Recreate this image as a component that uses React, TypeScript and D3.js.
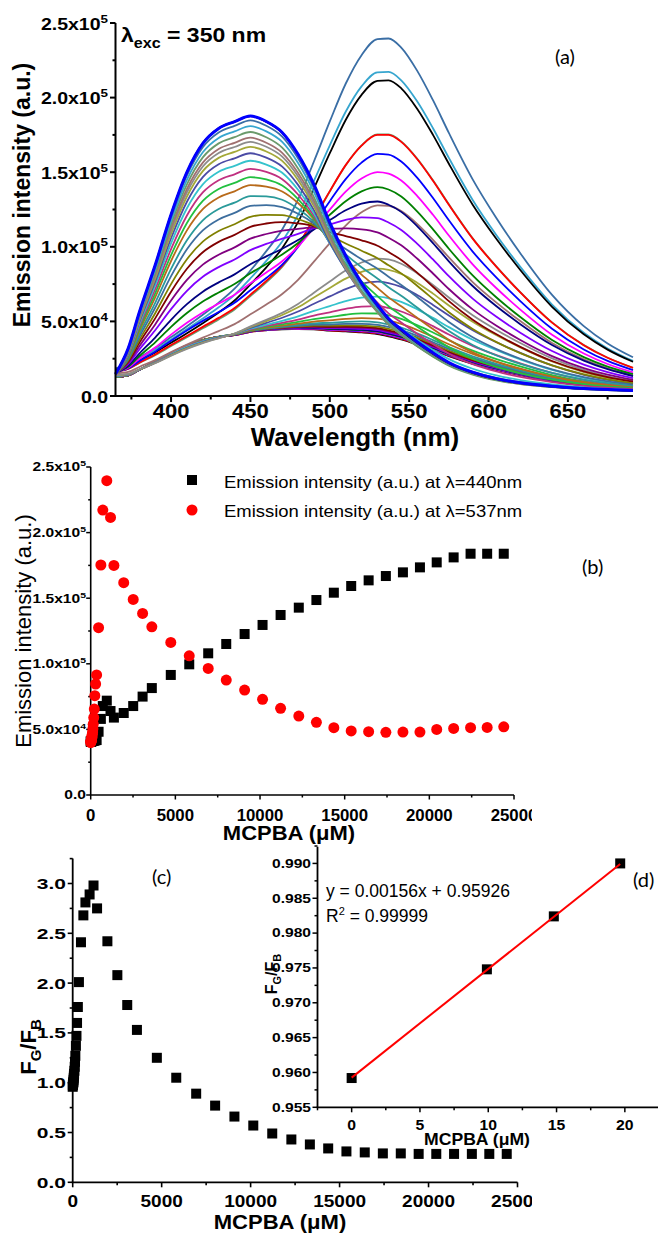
import React from "react";
import * as d3 from "d3";

const W = 658;
const H = 1233;
const SANS = "'Liberation Sans', Arial, sans-serif";
const CAL = "Lato, 'Open Sans', sans-serif";

// ---------- Panel (a): emission spectra ----------
const wavelengths = [365, 373, 380, 390, 400, 410, 420, 430, 440, 450, 460, 470, 480, 490, 500, 510, 520, 530, 537, 545, 555, 565, 575, 590, 605, 620, 640, 660, 675, 691];
// normalised emission profile of the blue-emitting form (=1 at 440 nm)
const blueBand = [0.02, 0.13, 0.27, 0.45, 0.64, 0.8, 0.91, 0.97, 1.0, 1.02, 1.0, 0.96, 0.88, 0.77, 0.63, 0.51, 0.41, 0.33, 0.28, 0.24, 0.195, 0.155, 0.12, 0.085, 0.062, 0.047, 0.035, 0.027, 0.023, 0.02];
// normalised emission profile of the green-emitting form (=1 at 537 nm)
const greenBand = [0.03, 0.035, 0.04, 0.045, 0.05, 0.06, 0.08, 0.11, 0.15, 0.2, 0.26, 0.33, 0.43, 0.56, 0.7, 0.83, 0.93, 0.99, 1.0, 0.98, 0.92, 0.84, 0.75, 0.62, 0.51, 0.41, 0.29, 0.2, 0.15, 0.11];
// short-wavelength background (10^3 a.u.)
const scatterBand = [11, 8, 6.5, 5, 4, 3, 2, 1, 0, 0, 0, 0, 0, 0, 0, 0, 0, 0, 0, 0, 0, 0, 0, 0, 0, 0, 0, 0, 0, 0];
const curveColors = ["#000000", "#ff0000", "#0000ff", "#ff00ff", "#008000", "#000080", "#8000ff", "#800080", "#800000", "#808000", "#3d6e9e", "#2a9a9a", "#b86a1a", "#22c040", "#c03080", "#35c3cc", "#4b4ba5", "#a4a838", "#8c8c8c", "#a07070", "#6b9a6b", "#37a6cf", "#3a6ea5"];
const aYTicks = [0, 50, 100, 150, 200, 250];
const aYMinor = [25, 75, 125, 175, 225];
const aYLabels = [["0.0", ""], ["5.0x10", "4"], ["1.0x10", "5"], ["1.5x10", "5"], ["2.0x10", "5"], ["2.5x10", "5"]];
const aXTicks = [400, 450, 500, 550, 600, 650];
const aXMinor = [375, 425, 475, 525, 575, 625, 675];

// ---------- Panel (b) & (c): titration ----------
const mcpba = [0, 9.9, 14.8, 19.7, 29.5, 39.2, 48.8, 58.3, 67.7, 77, 95, 113, 130, 148, 180, 212, 244, 290, 350, 465, 600, 715, 950, 1170, 1370, 1950, 2510, 3065, 3610, 4730, 5820, 6940, 8005, 9090, 10150, 11215, 12290, 13330, 14360, 15385, 16415, 17432, 18440, 19445, 20435, 21435, 22435, 23415, 24395];
// emission intensity (10^3 a.u.) at 440 nm
const int440 = [40.8, 40.8, 40.9, 40.9, 41.0, 41.0, 41.0, 41.1, 41.1, 41.2, 41.2, 41.3, 41.3, 41.4, 41.5, 41.6, 41.7, 41.8, 41.9, 48.2, 58.0, 67.8, 71.9, 64.0, 59.0, 62.5, 67.8, 75.0, 81.5, 91.5, 99.6, 108.0, 115.1, 122.7, 129.6, 137.2, 142.8, 148.6, 154.2, 159.3, 163.6, 166.9, 169.7, 173.5, 177.3, 181.1, 183.9, 183.9, 183.9];
// emission intensity (10^3 a.u.) at 537 nm
const int537 = [40.0, 40.4, 40.8, 41.2, 41.6, 42.0, 42.6, 43.3, 44.0, 45.0, 46.3, 48.0, 50.5, 54.0, 59.0, 65.5, 75.7, 84.6, 91.5, 127.5, 175.3, 217.2, 239.6, 211.6, 175.0, 161.8, 149.1, 138.4, 128.2, 116.3, 106.1, 96.5, 87.6, 80.0, 72.9, 66.1, 60.2, 55.4, 51.3, 48.8, 48.3, 47.8, 48.0, 48.0, 50.0, 50.7, 51.3, 51.5, 52.0];
const ratioFGFB = [0.959, 0.975, 0.982, 0.99, 1.0, 1.01, 1.03, 1.05, 1.07, 1.09, 1.12, 1.16, 1.21, 1.27, 1.37, 1.47, 1.6, 1.76, 2.01, 2.41, 2.68, 2.81, 2.89, 2.98, 2.75, 2.42, 2.08, 1.78, 1.53, 1.25, 1.05, 0.89, 0.77, 0.66, 0.57, 0.49, 0.43, 0.38, 0.34, 0.31, 0.3, 0.29, 0.29, 0.285, 0.285, 0.285, 0.285, 0.285, 0.285];
const bYTicks = [0, 50, 100, 150, 200, 250];
const bYMinor = [25, 75, 125, 175, 225];
const bXTicks = [0, 5000, 10000, 15000, 20000, 25000];
const bXMinor = [2500, 7500, 12500, 17500, 22500];
const legendLabels = ["Emission intensity (a.u.) at \u03bb=440nm", "Emission intensity (a.u.) at \u03bb=537nm"];
const cYTicks = [0, 0.5, 1.0, 1.5, 2.0, 2.5, 3.0];
const cYMinor = [0.25, 0.75, 1.25, 1.75, 2.25, 2.75, 3.25];
const cXTicks = [0, 5000, 10000, 15000, 20000, 25000];

// ---------- Panel (d): calibration ----------
const calibX = [0, 9.9, 14.8, 19.66];
const calibY = [0.9592, 0.9748, 0.9824, 0.99];
const fitSlope = 0.00156;
const fitIntercept = 0.95926;
const dYTicks = [0.955, 0.96, 0.965, 0.97, 0.975, 0.98, 0.985, 0.99];
const dXTicks = [0, 5, 10, 15, 20];
const dXMinor = [-2.5, 2.5, 7.5, 12.5, 17.5, 22.5];

type TP = {
  x: number; y: number; size: number; weight?: string | number; sx?: number;
  anchor?: "start" | "middle" | "end"; rotate?: number; family?: string; children?: React.ReactNode;
};
function T({ x, y, size, weight = "bold", sx = 1, anchor = "start", rotate = 0, family = SANS, children }: TP) {
  const tr = rotate
    ? `translate(${x},${y}) rotate(${rotate}) scale(1,${sx})`
    : `translate(${x},${y}) scale(${sx},1)`;
  return (
    <text transform={tr} fontSize={size} fontWeight={weight} textAnchor={anchor} fontFamily={family} fill="#000">
      {children}
    </text>
  );
}

export default function App() {
  // scales
  const xA = d3.scaleLinear().domain([365, 691]).range([115.5, 633]);
  const yA = d3.scaleLinear().domain([0, 250]).range([396, 23]);
  const xB = d3.scaleLinear().domain([0, 25000]).range([90.7, 514]);
  const yB = d3.scaleLinear().domain([0, 250]).range([795, 467]);
  const xC = d3.scaleLinear().domain([0, 25000]).range([72.7, 517.5]);
  const yC = d3.scaleLinear().domain([0, 3.25]).range([1182.3, 858.6]);
  const xD = d3.scaleLinear().domain([-2.5, 22.5]).range([317.5, 659]);
  const yD = d3.scaleLinear().domain([0.955, 0.9924]).range([1107.3, 846.7]);

  // spectra built from the two emitting forms, weighted so that they reproduce panel (b)
  const k440 = wavelengths.indexOf(440);
  const k537 = wavelengths.indexOf(537);
  const det = blueBand[k440] * greenBand[k537] - greenBand[k440] * blueBand[k537];
  const spectra = int440.map((i440, i) => {
    const i537 = int537[i];
    const a = (i440 * greenBand[k537] - greenBand[k440] * i537) / det;
    const c = (blueBand[k440] * i537 - blueBand[k537] * i440) / det;
    return wavelengths.map((w, k) => [w, a * blueBand[k] + c * greenBand[k] + scatterBand[k]] as [number, number]);
  });
  const lineA = d3
    .line<[number, number]>()
    .x((d) => xA(d[0]))
    .y((d) => yA(d[1]))
    .curve(d3.curveMonotoneX);

  const fitLine = d3
    .line<number>()
    .x((d) => xD(d))
    .y((d) => yD(fitSlope * d + fitIntercept));

  const sq = (cx: number, cy: number, s: number, key: string | number, fill = "#000") => (
    <rect key={key} x={cx - s / 2} y={cy - s / 2} width={s} height={s} fill={fill} />
  );

  return (
    <svg width={W} height={H} viewBox={`0 0 ${W} ${H}`} style={{ position: "absolute", left: 0, top: 0, background: "#fff" }}>
      <defs>
        <clipPath id="clipBC">
          <rect x={0} y={440} width={532} height={H - 440} />
        </clipPath>
      </defs>
      <rect x={0} y={0} width={W} height={H} fill="#fff" />

      {/* ================= Panel (a) ================= */}
      <g>
        {spectra.map((s, i) => (
          <path
            key={i}
            d={lineA(s) || ""}
            fill="none"
            stroke={curveColors[i % curveColors.length]}
            strokeWidth={i === spectra.length - 1 ? 3 : 1.8}
            strokeLinejoin="round"
          />
        ))}
        <line x1={115.5} x2={115.5} y1={yA(250)} y2={yA(0)} stroke="#000" strokeWidth={2} />
        <line x1={114.5} x2={633} y1={yA(0)} y2={yA(0)} stroke="#000" strokeWidth={2} />
        {aYTicks.map((v) => (
          <line key={"ay" + v} x1={110} x2={115.5} y1={yA(v)} y2={yA(v)} stroke="#000" strokeWidth={2} />
        ))}
        {aYMinor.map((v) => (
          <line key={"aym" + v} x1={112.5} x2={115.5} y1={yA(v)} y2={yA(v)} stroke="#000" strokeWidth={2} />
        ))}
        {aXTicks.map((v) => (
          <line key={"ax" + v} x1={xA(v)} x2={xA(v)} y1={396} y2={402} stroke="#000" strokeWidth={2} />
        ))}
        {aXMinor.map((v) => (
          <line key={"axm" + v} x1={xA(v)} x2={xA(v)} y1={396} y2={399.5} stroke="#000" strokeWidth={2} />
        ))}
        {aYTicks.map((v, i) => (
          <T key={"ayl" + v} x={108} y={yA(v) + 6.5} size={16} sx={1.22} anchor="end">
            {aYLabels[i][0]}
            {aYLabels[i][1] && (
              <tspan dy={-7} fontSize={11}>
                {aYLabels[i][1]}
              </tspan>
            )}
          </T>
        ))}
        {aXTicks.map((v) => (
          <T key={"axl" + v} x={xA(v)} y={418} size={21} sx={1.05} anchor="middle">
            {String(v)}
          </T>
        ))}
        <T x={30} y={195} size={23} rotate={-90} anchor="middle">
          Emission intensity (a.u.)
        </T>
        <T x={355} y={446} size={25} sx={1.04} anchor="middle">
          Wavelength (nm)
        </T>
        <T x={121} y={41.5} size={20} sx={1.15}>
          {"\u03bb"}
          <tspan fontSize={14} dy={6}>exc</tspan>
          <tspan dy={-6}> = 350 nm</tspan>
        </T>
        <T x={555} y={64} size={20} weight="normal" family={CAL}>
          (a)
        </T>
      </g>

      {/* ================= Panel (b) ================= */}
      <g clipPath="url(#clipBC)">
        <line x1={xB(0)} x2={xB(0)} y1={yB(250)} y2={yB(0)} stroke="#000" strokeWidth={1.6} />
        <line x1={xB(0) - 0.8} x2={xB(25000)} y1={yB(0)} y2={yB(0)} stroke="#000" strokeWidth={1.6} />
        {bYTicks.map((v) => (
          <line key={"by" + v} x1={xB(0) - 4.5} x2={xB(0)} y1={yB(v)} y2={yB(v)} stroke="#000" strokeWidth={1.5} />
        ))}
        {bYMinor.map((v) => (
          <line key={"bym" + v} x1={xB(0) - 2.5} x2={xB(0)} y1={yB(v)} y2={yB(v)} stroke="#000" strokeWidth={1.5} />
        ))}
        {bXTicks.map((v) => (
          <line key={"bx" + v} x1={xB(v)} x2={xB(v)} y1={yB(0)} y2={yB(0) + 4.5} stroke="#000" strokeWidth={1.5} />
        ))}
        {bXMinor.map((v) => (
          <line key={"bxm" + v} x1={xB(v)} x2={xB(v)} y1={yB(0)} y2={yB(0) + 2.5} stroke="#000" strokeWidth={1.5} />
        ))}
        {bYTicks.map((v, i) => (
          <T key={"byl" + v} x={86} y={yB(v) + 4.3} size={12} sx={1.3} anchor="end">
            {aYLabels[i][0]}
            {aYLabels[i][1] && (
              <tspan dy={-5} fontSize={8}>
                {aYLabels[i][1]}
              </tspan>
            )}
          </T>
        ))}
        {bXTicks.map((v) => (
          <T key={"bxl" + v} x={xB(v)} y={820.5} size={16} sx={1.05} anchor="middle">
            {String(v)}
          </T>
        ))}
        {mcpba.map((m, i) => sq(xB(m), yB(int440[i]), 10, "bs" + i))}
        {mcpba.map((m, i) => (
          <circle key={"bc" + i} cx={xB(m)} cy={yB(int537[i])} r={5.5} fill="#ff0000" />
        ))}
        {sq(192, 480, 10, "leg1")}
        <circle cx={192} cy={510} r={5.5} fill="#ff0000" />
        <T x={224} y={487.5} size={16.5} sx={1.12} weight="normal">
          {legendLabels[0]}
        </T>
        <T x={224} y={516.5} size={16.5} sx={1.12} weight="normal">
          {legendLabels[1]}
        </T>
        <T x={31} y={631} size={22} rotate={-90} anchor="middle" weight="normal">
          Emission intensity (a.u.)
        </T>
        <T x={289} y={839.5} size={20} sx={1.1} anchor="middle">
          MCPBA ({"\u03bc"}M)
        </T>
      </g>
      <T x={582} y={574} size={20} weight="normal" family={CAL}>
        (b)
      </T>

      {/* ================= Panel (c) ================= */}
      <g clipPath="url(#clipBC)">
        <line x1={xC(0)} x2={xC(0)} y1={858.6} y2={yC(0)} stroke="#000" strokeWidth={1.8} />
        <line x1={xC(0) - 0.9} x2={xC(25000)} y1={yC(0)} y2={yC(0)} stroke="#000" strokeWidth={1.8} />
        {cYTicks.map((v) => (
          <line key={"cy" + v} x1={xC(0) - 5} x2={xC(0)} y1={yC(v)} y2={yC(v)} stroke="#000" strokeWidth={1.6} />
        ))}
        {cYMinor.map((v) => (
          <line key={"cym" + v} x1={xC(0) - 3} x2={xC(0)} y1={yC(v)} y2={yC(v)} stroke="#000" strokeWidth={1.6} />
        ))}
        {cXTicks.map((v) => (
          <line key={"cx" + v} x1={xC(v)} x2={xC(v)} y1={yC(0)} y2={yC(0) + 5} stroke="#000" strokeWidth={1.6} />
        ))}
        {bXMinor.map((v) => (
          <line key={"cxm" + v} x1={xC(v)} x2={xC(v)} y1={yC(0)} y2={yC(0) + 3} stroke="#000" strokeWidth={1.6} />
        ))}
        {cYTicks.map((v) => (
          <T key={"cyl" + v} x={66} y={yC(v) + 5.5} size={15} sx={1.4} anchor="end">
            {v.toFixed(1)}
          </T>
        ))}
        {cXTicks.map((v) => (
          <T key={"cxl" + v} x={xC(v)} y={1206.5} size={17} sx={1.12} anchor="middle">
            {String(v)}
          </T>
        ))}
        {mcpba.map((m, i) => sq(xC(m), yC(ratioFGFB[i]), 10, "cs" + i))}
        <T x={36} y={1047} size={22} rotate={-90} anchor="middle">
          F<tspan fontSize={15} dy={5}>G</tspan>
          <tspan dy={-5}>/F</tspan>
          <tspan fontSize={15} dy={5}>B</tspan>
        </T>
        <T x={280} y={1228.5} size={21} sx={1.05} anchor="middle">
          MCPBA ({"\u03bc"}M)
        </T>
      </g>
      <T x={152} y={884} size={20} weight="normal" family={CAL}>
        (c)
      </T>

      {/* ================= Panel (d) ================= */}
      <g>
        <line x1={xD(-2.5)} x2={xD(-2.5)} y1={846.7} y2={yD(0.955)} stroke="#000" strokeWidth={1.8} />
        <line x1={xD(-2.5) - 0.9} x2={658} y1={yD(0.955)} y2={yD(0.955)} stroke="#000" strokeWidth={1.8} />
        {dYTicks.map((v) => (
          <line key={"dy" + v} x1={xD(-2.5) - 5} x2={xD(-2.5)} y1={yD(v)} y2={yD(v)} stroke="#000" strokeWidth={1.5} />
        ))}
        {dYTicks.map((v) => (
          <line key={"dym" + v} x1={xD(-2.5) - 3} x2={xD(-2.5)} y1={yD(v + 0.0025)} y2={yD(v + 0.0025)} stroke="#000" strokeWidth={1.5} />
        ))}
        {dXTicks.map((v) => (
          <line key={"dx" + v} x1={xD(v)} x2={xD(v)} y1={yD(0.955)} y2={yD(0.955) + 5} stroke="#000" strokeWidth={1.5} />
        ))}
        {dXMinor.map((v) => (
          <line key={"dxm" + v} x1={xD(v)} x2={xD(v)} y1={yD(0.955)} y2={yD(0.955) + 3} stroke="#000" strokeWidth={1.5} />
        ))}
        {dYTicks.map((v) => (
          <T key={"dyl" + v} x={311} y={yD(v) + 4.3} size={12} sx={1.3} anchor="end">
            {v.toFixed(3)}
          </T>
        ))}
        {dXTicks.map((v) => (
          <T key={"dxl" + v} x={xD(v)} y={1129.5} size={15} sx={1.05} anchor="middle">
            {String(v)}
          </T>
        ))}
        {calibX.map((x, i) => sq(xD(x), yD(calibY[i]), 10, "ds" + i))}
        <path d={fitLine([calibX[0], calibX[calibX.length - 1]]) || ""} stroke="#ff0000" strokeWidth={2} fill="none" />
        <T x={326} y={897} size={17.5} weight="normal">
          y = 0.00156x + 0.95926
        </T>
        <T x={326} y={921.5} size={17.5} weight="normal">
          R<tspan fontSize={11} dy={-7}>2</tspan>
          <tspan dy={7}> = 0.99999</tspan>
        </T>
        <T x={277} y={974} size={16} rotate={-90} anchor="middle">
          F<tspan fontSize={11} dy={4}>G</tspan>
          <tspan dy={-4}>/F</tspan>
          <tspan fontSize={11} dy={4}>B</tspan>
        </T>
        <T x={477} y={1145} size={16} sx={1.1} anchor="middle">
          MCPBA ({"\u03bc"}M)
        </T>
        <T x={633} y={887} size={20} weight="normal" family={CAL}>
          (d)
        </T>
      </g>
    </svg>
  );
}
